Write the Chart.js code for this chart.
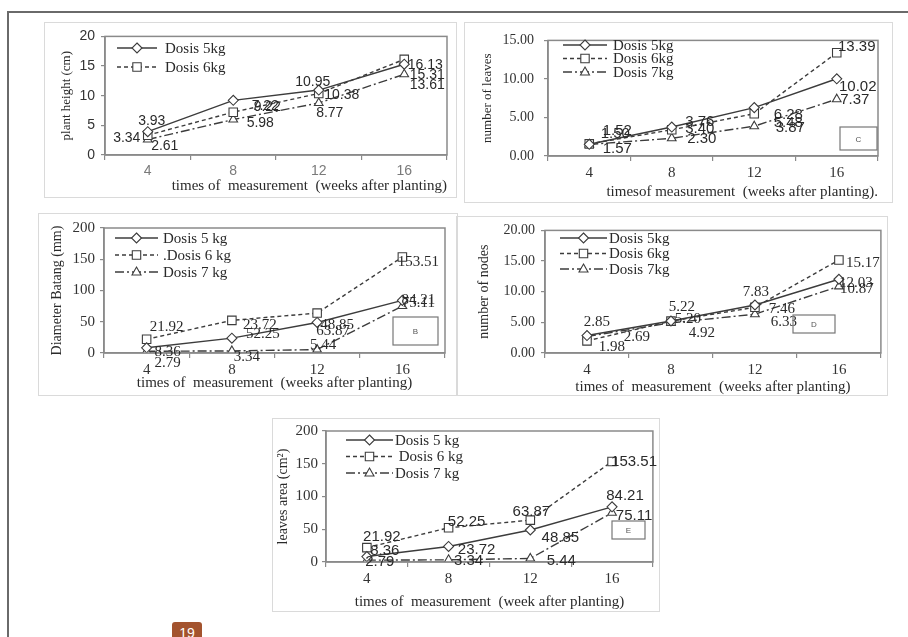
<!DOCTYPE html>
<html>
<head>
<meta charset="utf-8">
<script src="https://cdn.jsdelivr.net/npm/chart.js@4.4.1/dist/chart.umd.min.js"></script>
<style>
  html, body { margin: 0; padding: 0; background: #fff; }
  body { width: 908px; height: 637px; position: relative; overflow: hidden; }
  .page { position: absolute; left: 7px; top: 11px; width: 1000px; height: 700px;
          border-left: 2px solid #6a6a6a; border-top: 2px solid #6a6a6a; }
  .frame { position: absolute; border: 1px solid #dadada; box-sizing: border-box; }
  canvas.plot { position: absolute; }
  .pagenum { position: absolute; left: 172px; top: 622px; width: 30px; height: 22px;
             background: #a3532e; color: #fff; border-radius: 3px; text-align: center;
             font: 14px "Liberation Sans", sans-serif; line-height: 22px; }
</style>
</head>
<body>
<div class="page"></div>
<div class="pagenum">19</div>

<script>
// weeks after planting
const weeks = ['4', '8', '12', '16'];

// A - plant height (cm)
const heightDose5 = [3.93, 9.22, 10.95, 15.31];
const heightDose6 = [3.34, 7.22, 10.38, 16.13];
const heightDose7 = [2.61, 5.98, 8.77, 13.61];
const heightTicks = [0, 5, 10, 15, 20];

// C - number of leaves
const leavesDose5 = [1.52, 3.76, 6.28, 10.02];
const leavesDose6 = [1.57, 3.40, 5.48, 13.39];
const leavesDose7 = [1.50, 2.30, 3.87, 7.37];
const leavesTicks = [0, 5, 10, 15];

// B - stem diameter (mm)
const diamDose5 = [8.36, 23.72, 48.85, 84.21];
const diamDose6 = [21.92, 52.25, 63.87, 153.51];
const diamDose7 = [2.79, 3.34, 5.44, 75.11];
const diamTicks = [0, 50, 100, 150, 200];

// D - number of nodes
const nodesDose5 = [2.85, 5.22, 7.83, 12.03];
const nodesDose6 = [1.98, 5.20, 7.46, 15.17];
const nodesDose7 = [2.69, 4.92, 6.33, 10.87];
const nodesTicks = [0, 5, 10, 15, 20];

// E - leaves area (cm2)
const areaDose5 = [8.36, 23.72, 48.85, 84.21];
const areaDose6 = [21.92, 52.25, 63.87, 153.51];
const areaDose7 = [2.79, 3.34, 5.44, 75.11];
const areaTicks = [0, 50, 100, 150, 200];

// where each value label sits relative to its point (dx, dy)
const heightShift = [[[4,-11],[34,7],[-6,-8],[23,11]], [[-21,3],[32,-6],[23,2],[21,6]], [[17,7],[27,4],[11,10],[23,11]]];
const leavesShift = [[[28,-13],[28,-5],[34,7],[21,8]], [[28,5],[28,-1],[34,9],[20,-6]], [[26,-11],[30,1],[36,2],[18,1]]];
const diamShift   = [[[21,4],[28,-13],[20,3],[16,0]], [[20,-12],[31,14],[16,18],[16,5]], [[21,12],[15,6],[6,-5],[16,-3]]];
const nodesShift  = [[[10,-13],[11,-14],[1,-13],[17,4]], [[25,6],[17,-2],[27,2],[24,3]], [[50,1],[31,10],[29,8],[18,3]]];
const areaShift   = [[[18,-6],[28,3],[30,8],[13,-11]], [[15,-11],[18,-6],[1,-8],[22,0]], [[13,2],[20,1],[31,2],[22,3]]];

const INK = '#3c3c3c';
const AXIS = '#8a8a8a';
const SERIF = '"Liberation Serif", "Times New Roman", serif';
const SANS = '"Liberation Sans", Arial, sans-serif';

function series(label, data, kind) {
  const s = { label: label, data: data, borderColor: INK, borderWidth: 1.4,
    pointBackgroundColor: '#fff', pointBorderColor: INK, pointBorderWidth: 1.1,
    tension: 0, fill: false };
  if (kind === 5) { s.pointStyle = 'rectRot'; s.pointRadius = 5; }
  if (kind === 6) { s.pointStyle = 'rect'; s.pointRadius = 6; s.borderDash = [4, 3]; }
  if (kind === 7) { s.pointStyle = 'triangle'; s.pointRadius = 5; s.borderDash = [9, 3, 2, 3]; }
  return s;
}

function drawMarker(ctx, style, x, y) {
  ctx.save();
  ctx.setLineDash([]);
  ctx.fillStyle = '#fff';
  ctx.strokeStyle = INK;
  ctx.lineWidth = 1.1;
  ctx.beginPath();
  if (style === 'rectRot') {
    ctx.moveTo(x, y - 5); ctx.lineTo(x + 5, y); ctx.lineTo(x, y + 5); ctx.lineTo(x - 5, y);
  } else if (style === 'rect') {
    ctx.rect(x - 4.2, y - 4.2, 8.4, 8.4);
  } else {
    ctx.moveTo(x, y - 5); ctx.lineTo(x + 4.5, y + 3); ctx.lineTo(x - 4.5, y + 3);
  }
  ctx.closePath();
  ctx.fill();
  ctx.stroke();
  ctx.restore();
}

const panelDecor = {
  id: 'panelDecor',
  afterDatasetsDraw(chart, args, o) {
    const ctx = chart.ctx, a = chart.chartArea;
    ctx.save();
    ctx.strokeStyle = AXIS;
    ctx.lineWidth = 1.5;
    ctx.strokeRect(a.left, a.top, a.right - a.left, a.bottom - a.top);

    // value labels
    ctx.font = o.labelFont;
    ctx.fillStyle = '#2a2a2a';
    ctx.textAlign = 'center';
    ctx.textBaseline = 'middle';
    chart.data.datasets.forEach((ds, i) => {
      chart.getDatasetMeta(i).data.forEach((pt, j) => {
        const s = o.shifts[i][j];
        ctx.fillText(ds.data[j].toFixed(2), pt.x + s[0], pt.y + s[1]);
      });
    });

    // legend drawn inside the plot
    const lg = o.legend;
    ctx.font = o.legendFont;
    ctx.textAlign = 'left';
    lg.names.forEach((name, i) => {
      const ds = chart.data.datasets[i];
      const y = lg.y - o.oy + i * lg.gap;
      const x0 = lg.x0 - o.ox, x1 = lg.x1 - o.ox;
      ctx.strokeStyle = INK;
      ctx.lineWidth = 1.3;
      ctx.setLineDash(ds.borderDash || []);
      ctx.beginPath();
      ctx.moveTo(x0, y); ctx.lineTo(x1, y);
      ctx.stroke();
      ctx.setLineDash([]);
      drawMarker(ctx, ds.pointStyle, (x0 + x1) / 2, y);
      ctx.fillStyle = '#2a2a2a';
      ctx.fillText(name, lg.tx - o.ox, y + 1);
    });

    // small panel letter box
    const b = o.letter;
    ctx.strokeStyle = '#777';
    ctx.lineWidth = 1.2;
    ctx.strokeRect(b.x - o.ox, b.y - o.oy, b.w, b.h);
    ctx.font = '8px ' + SANS;
    ctx.fillStyle = '#555';
    ctx.textAlign = 'center';
    ctx.fillText(b.text, b.x - o.ox + b.w / 2, b.y - o.oy + b.h / 2 + 1);
    ctx.restore();
  }
};

function makePanel(p) {
  const fr = document.createElement('div');
  fr.className = 'frame';
  Object.assign(fr.style, { left: p.frame.x + 'px', top: p.frame.y + 'px',
    width: p.frame.w + 'px', height: p.frame.h + 'px' });
  document.body.appendChild(fr);

  const cv = document.createElement('canvas');
  cv.className = 'plot';
  cv.width = p.frame.w; cv.height = p.frame.h;
  Object.assign(cv.style, { left: p.frame.x + 'px', top: p.frame.y + 'px' });
  document.body.appendChild(cv);

  const fx = p.frame.x, fy = p.frame.y, fr_ = fx + p.frame.w, fb = fy + p.frame.h;
  const yw = p.plot.l - fx, xh = fb - p.plot.b;

  new Chart(cv, {
    type: 'line',
    data: {
      labels: weeks,
      datasets: [series('Dosis 5kg', p.d5, 5), series('Dosis 6kg', p.d6, 6), series('Dosis 7kg', p.d7, 7)]
    },
    options: {
      responsive: false,
      animation: false,
      layout: { padding: { left: 0, top: p.plot.t - fy, right: fr_ - p.plot.r, bottom: 0 } },
      plugins: {
        legend: { display: false },
        tooltip: { enabled: false },
        panelDecor: { ox: fx, oy: fy, shifts: p.shifts, labelFont: p.labelFont,
          legendFont: '15px ' + SERIF, legend: p.legend, letter: p.letter }
      },
      scales: {
        x: {
          type: 'category',
          offset: true,
          grid: { display: true, offset: true, drawOnChartArea: false, drawTicks: true,
                  tickLength: 5, color: AXIS, lineWidth: 1.2 },
          border: { display: true, color: AXIS, width: 1.5 },
          ticks: { color: p.xTickColor, font: p.xTickFont, padding: 3 },
          title: { display: true, text: p.xTitle, align: p.xAlign, color: '#2a2a2a',
                   font: { family: SERIF, size: 15 }, padding: { top: 0, bottom: p.xTitlePad } },
          afterFit(s) { s.height = xh; }
        },
        y: {
          min: p.ticks[0], max: p.ticks[p.ticks.length - 1],
          afterBuildTicks(s) { s.ticks = p.ticks.map(v => ({ value: v })); },
          grid: { display: true, drawOnChartArea: false, drawTicks: true, tickLength: 4,
                  color: AXIS, lineWidth: 1.2 },
          border: { display: true, color: AXIS, width: 1.5 },
          ticks: { color: '#333', font: p.yTickFont, padding: p.yTickPad,
                   callback: v => p.decimals ? Number(v).toFixed(2) : v },
          title: { display: true, text: p.yTitle, color: '#2a2a2a',
                   font: { family: SERIF, size: p.yTitleSize }, padding: { top: p.yTitlePad, bottom: 0 } },
          afterFit(s) { s.width = yw; }
        }
      }
    },
    plugins: [panelDecor]
  });
}

// A
makePanel({
  frame: { x: 44, y: 22, w: 413, h: 176 }, plot: { l: 105, t: 33, r: 447, b: 155 },
  d5: heightDose5, d6: heightDose6, d7: heightDose7, ticks: heightTicks, decimals: false,
  shifts: heightShift, labelFont: '14px ' + SANS,
  xTitle: 'times of  measurement  (weeks after planting)', xAlign: 'end', xTitlePad: 3,
  xTickFont: { family: SANS, size: 14 }, xTickColor: '#7a7a7a',
  yTickFont: { family: SANS, size: 14 }, yTickPad: 6,
  yTitle: 'plant height (cm)', yTitleSize: 13, yTitlePad: 15,
  legend: { names: ['Dosis 5kg', 'Dosis 6kg'], x0: 117, x1: 157, tx: 165, y: 48, gap: 19 },
  letter: { x: -100, y: -100, w: 0, h: 0, text: '' }
});

// C
makePanel({
  frame: { x: 464, y: 22, w: 429, h: 181 }, plot: { l: 548, t: 33, r: 878, b: 156 },
  d5: leavesDose5, d6: leavesDose6, d7: leavesDose7, ticks: leavesTicks, decimals: true,
  shifts: leavesShift, labelFont: '15px ' + SANS,
  xTitle: 'timesof measurement  (weeks after planting).', xAlign: 'end', xTitlePad: 2,
  xTickFont: { family: SERIF, size: 15 }, xTickColor: '#333',
  yTickFont: { family: SERIF, size: 14 }, yTickPad: 10,
  yTitle: 'number of leaves', yTitleSize: 13, yTitlePad: 16,
  legend: { names: ['Dosis 5kg', 'Dosis 6kg', 'Dosis 7kg'], x0: 563, x1: 607, tx: 613, y: 45, gap: 13.5 },
  letter: { x: 840, y: 127, w: 37, h: 23, text: 'C' }
});

// B
makePanel({
  frame: { x: 38, y: 213, w: 420, h: 183 }, plot: { l: 104, t: 228, r: 445, b: 353 },
  d5: diamDose5, d6: diamDose6, d7: diamDose7, ticks: diamTicks, decimals: false,
  shifts: diamShift, labelFont: '15px ' + SERIF,
  xTitle: 'times of  measurement  (weeks after planting)', xAlign: 'center', xTitlePad: 4,
  xTickFont: { family: SERIF, size: 15 }, xTickColor: '#333',
  yTickFont: { family: SERIF, size: 15 }, yTickPad: 5,
  yTitle: 'Diameter Batang (mm)', yTitleSize: 14, yTitlePad: 11,
  legend: { names: ['Dosis 5 kg', '.Dosis 6 kg', 'Dosis 7 kg'], x0: 115, x1: 158, tx: 163, y: 238, gap: 17 },
  letter: { x: 393, y: 317, w: 45, h: 28, text: 'B' }
});

// D
makePanel({
  frame: { x: 456, y: 216, w: 432, h: 180 }, plot: { l: 545, t: 229, r: 882, b: 353 },
  d5: nodesDose5, d6: nodesDose6, d7: nodesDose7, ticks: nodesTicks, decimals: true,
  shifts: nodesShift, labelFont: '15px ' + SERIF,
  xTitle: 'times of  measurement  (weeks after planting)', xAlign: 'center', xTitlePad: 0,
  xTickFont: { family: SERIF, size: 15 }, xTickColor: '#333',
  yTickFont: { family: SERIF, size: 14 }, yTickPad: 6,
  yTitle: 'number of nodes', yTitleSize: 14, yTitlePad: 20,
  legend: { names: ['Dosis 5kg', 'Dosis 6kg', 'Dosis 7kg'], x0: 560, x1: 607, tx: 609, y: 238, gap: 15.5 },
  letter: { x: 793, y: 315, w: 42, h: 18, text: 'D' }
});

// E
makePanel({
  frame: { x: 272, y: 418, w: 388, h: 194 }, plot: { l: 326, t: 430, r: 656, b: 562 },
  d5: areaDose5, d6: areaDose6, d7: areaDose7, ticks: areaTicks, decimals: false,
  shifts: areaShift, labelFont: '15px ' + SANS,
  xTitle: 'times of  measurement  (week after planting)', xAlign: 'center', xTitlePad: 1,
  xTickFont: { family: SERIF, size: 15 }, xTickColor: '#333',
  yTickFont: { family: SERIF, size: 15 }, yTickPad: 4,
  yTitle: 'leaves area (cm\u00B2)', yTitleSize: 14, yTitlePad: 3,
  legend: { names: ['Dosis 5 kg', ' Dosis 6 kg', 'Dosis 7 kg'], x0: 346, x1: 393, tx: 395, y: 440, gap: 16.5 },
  letter: { x: 612, y: 521, w: 33, h: 18, text: 'E' }
});
</script>
</body>
</html>
